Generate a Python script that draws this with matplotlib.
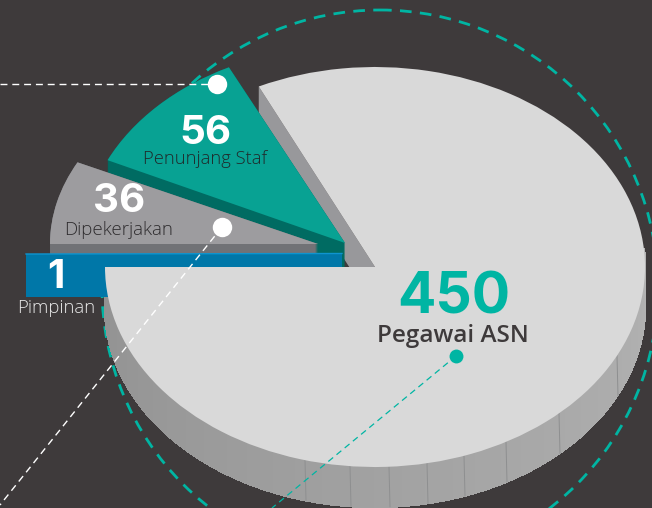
import numpy as np
import matplotlib
matplotlib.use('Agg')
import matplotlib.pyplot as plt
from matplotlib.patches import Wedge, Circle
from matplotlib.collections import PolyCollection
from matplotlib.transforms import Affine2D

categories = ['Pegawai ASN', 'Penunjang Staf', 'Dipekerjakan', 'Pimpinan']
values = [450, 56, 36, 1]
# the drawing is not strictly proportional, sweeps are read off the picture
sweep_deg = [295.5, 38.7, 26.2]
start_deg = [180, 116.3, 153.8]
seam_x = [305, 350, 389, 427, 464, 506, 559, 617]

BG = '#3e3a3b'
TEAL = '#00b5a3'
DEPTH = 40

fig = plt.figure(figsize=(6.52, 5.08), dpi=100, facecolor=BG)
ax = fig.add_axes([0, 0, 1, 1])
ax.set_xlim(0, 652)
ax.set_ylim(508, 0)
ax.axis('off')


def wedge(cx, cy, rx, ry, t0, sweep, color, zorder, dy=0):
    tr = Affine2D().scale(rx, -ry).translate(cx, cy + dy) + ax.transData
    p = Wedge((0, 0), 1, t0, t0 + sweep, transform=tr, fc=color, ec='none', zorder=zorder)
    ax.add_patch(p)


def on_ellipse(cx, cy, rx, ry, deg):
    a = np.radians(deg)
    return cx + rx * np.cos(a), cy - ry * np.sin(a)


ax.add_patch(Circle((380, 288), 278, fc='none', ec=TEAL, lw=2,
                    linestyle=(0, (4.2, 3)), zorder=1))

# main pie rim, lighter to the right
cx, cy, rx, ry = 375, 267, 270, 200
th = np.linspace(180, 365, 186)
xs, ys = on_ellipse(cx, cy, rx, ry, th)
quads = [[(xs[i], ys[i]), (xs[i + 1], ys[i + 1]), (xs[i + 1], ys[i + 1] + DEPTH), (xs[i], ys[i] + DEPTH)]
         for i in range(len(th) - 1)]
shade = np.linspace(0.57, 0.70, len(quads))
ax.add_collection(PolyCollection(quads, facecolors=[str(s) for s in shade],
                                 edgecolors=[str(s) for s in shade], linewidths=1,
                                 antialiaseds=False, zorder=2))
for sx in seam_x:
    sy = cy + ry * np.sqrt(1 - ((sx - cx) / rx) ** 2)
    ax.plot([sx, sx + 1], [sy, sy + DEPTH], color='#8e8f90', lw=0.7, zorder=2.5)

# cut face of the main pie
tx, ty = on_ellipse(cx, cy, rx, ry, start_deg[0] + sweep_deg[0])
ax.fill([tx, cx, cx, tx], [ty, cy, cy + DEPTH, ty + DEPTH], color='#98989b', lw=0, zorder=3)

# teal slice
for d in range(DEPTH):
    wedge(345, 243, 262, 196, start_deg[1], sweep_deg[1], '#006b62', 4, dy=d)
wedge(345, 243, 262, 196, start_deg[1], sweep_deg[1], '#08a293', 5)

# grey slice
for d in range(DEPTH):
    wedge(318, 244, 268, 185, start_deg[2], sweep_deg[2], '#717276', 6, dy=d)
wedge(318, 244, 268, 185, start_deg[2], sweep_deg[2], '#9d9c9f', 7)

# blue slice, drawn as a band because 1 of 543 would not show
ax.barh(275.5, 316, height=43, left=26, color='#0077a8', zorder=8)
ax.plot([26, 342], [254, 253.5], color='#0e94cf', lw=1, zorder=8.5)

wedge(cx, cy, rx, ry, start_deg[0], sweep_deg[0], '#d9d9d9', 9)

# leader lines
ax.plot([0, 217], [84, 84], color='white', lw=1, linestyle=(0, (5, 3.5)), zorder=10)
ax.plot([222, 0], [227, 505], color='white', lw=1, linestyle=(0, (5, 3.5)), zorder=10)
ax.plot([456, 272], [356, 508], color=TEAL, lw=0.9, linestyle=(0, (5, 3.5)), zorder=10)
ax.plot([217], [84], 'o', color='white', ms=14, mew=0, zorder=11)
ax.plot([222], [227], 'o', color='white', ms=14, mew=0, zorder=11)
ax.plot([456], [356], 'o', color=TEAL, ms=10, mew=0, zorder=11)

NUM = ['Inter', 'Open Sans', 'DejaVu Sans']
LAB = ['Open Sans', 'DejaVu Sans']
txt = dict(ha='center', va='center', zorder=12)
ax.text(454, 299, str(values[0]), color=TEAL, fontsize=41, fontweight='bold', family=NUM, **txt)
ax.text(453, 336, categories[0], color='#3e3a3b', fontsize=17.5, fontweight='semibold', family=LAB, **txt)
ax.text(205, 134, str(values[1]), color='white', fontsize=29, fontweight='bold', family=NUM, **txt)
ax.text(205, 159, categories[1], color='#1f2a2b', fontsize=13.2, fontweight='light', family=LAB, **txt)
ax.text(119, 202, str(values[2]), color='white', fontsize=29, fontweight='bold', family=NUM, **txt)
ax.text(119, 230, categories[2], color='#2e2c2e', fontsize=13.5, fontweight='light', family=LAB, **txt)
ax.text(56, 278, str(values[3]), color='white', fontsize=29, fontweight='bold', family=NUM, **txt)
ax.text(56, 308, categories[3], color='#e8e8e8', fontsize=13.3, fontweight='light', family=LAB, **txt)

fig.savefig('out.png', dpi=100, facecolor=BG)
